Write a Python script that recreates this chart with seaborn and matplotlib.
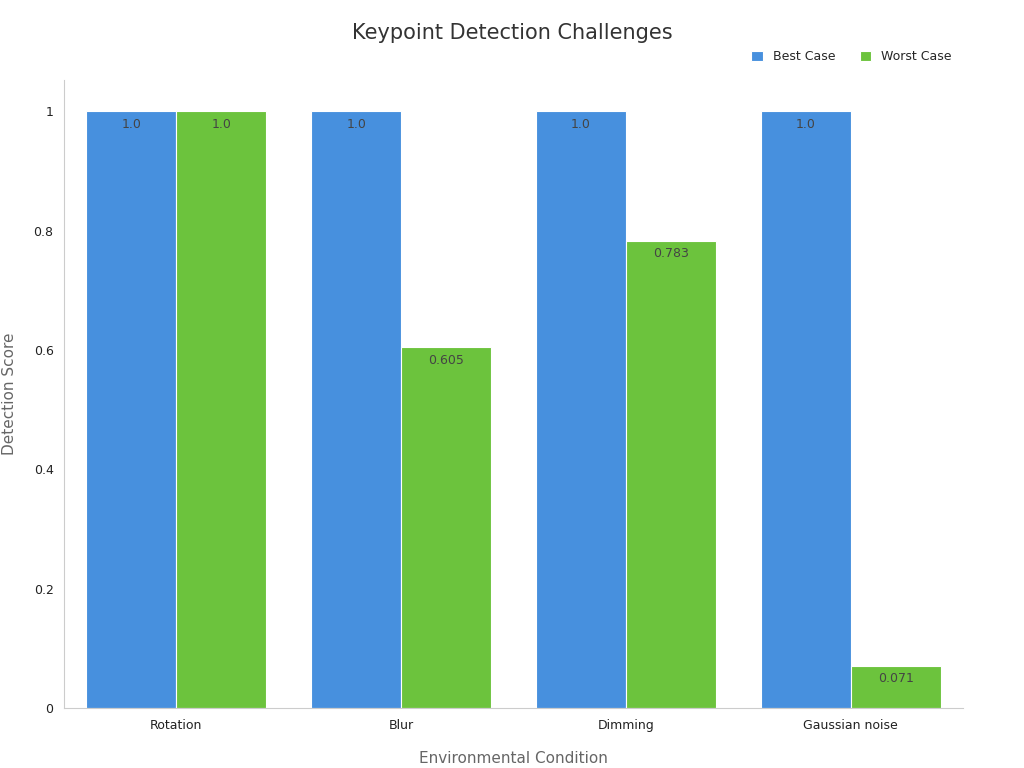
import matplotlib
matplotlib.use("Agg")
import matplotlib.pyplot as plt
import seaborn as sns
import pandas as pd

conditions = ["Rotation", "Blur", "Dimming", "Gaussian noise"]
best_case = [1.0, 1.0, 1.0, 1.0]
worst_case = [1.0, 0.605, 0.783, 0.071]
best_labels = ["1.0", "1.0", "1.0", "1.0"]
worst_labels = ["1.0", "0.605", "0.783", "0.071"]

df = pd.DataFrame({
    "Environmental Condition": conditions * 2,
    "Detection Score": best_case + worst_case,
    "Series": ["Best Case"] * 4 + ["Worst Case"] * 4,
})

sns.set_style("white")
fig = plt.figure(figsize=(10.24, 7.68), dpi=100)
ax = fig.add_axes([0.0625, 0.078, 0.878, 0.818])

sns.barplot(data=df, x="Environmental Condition", y="Detection Score", hue="Series",
            palette=["#2E8FF7", "#66DA26"], width=0.8, edgecolor="white",
            linewidth=0.8, ax=ax)

for container, labels in zip(ax.containers, [best_labels, worst_labels]):
    ax.bar_label(container, labels=labels, padding=-14, fontsize=9, color="#444444")

ax.set_ylim(0, 1.053)
ax.set_yticks([0, 0.2, 0.4, 0.6, 0.8, 1.0])
ax.set_yticklabels(["0", "0.2", "0.4", "0.6", "0.8", "1"])
ax.tick_params(axis="both", labelsize=9, colors="#222222", length=4)
for s in ["top", "right"]:
    ax.spines[s].set_visible(False)
for s in ["left", "bottom"]:
    ax.spines[s].set_color("#cccccc")

ax.set_xlabel("Environmental Condition", fontsize=11, color="#666666", labelpad=14)
ax.set_ylabel("Detection Score", fontsize=11, color="#666666", labelpad=12)
fig.suptitle("Keypoint Detection Challenges", fontsize=15, color="#333333", y=0.97)

ax.legend(loc="upper right", bbox_to_anchor=(1.0, 1.065), ncol=2, frameon=False,
          fontsize=9, handlelength=0.9, handleheight=0.9, columnspacing=2.0)

fig.savefig("out.png", dpi=100)
